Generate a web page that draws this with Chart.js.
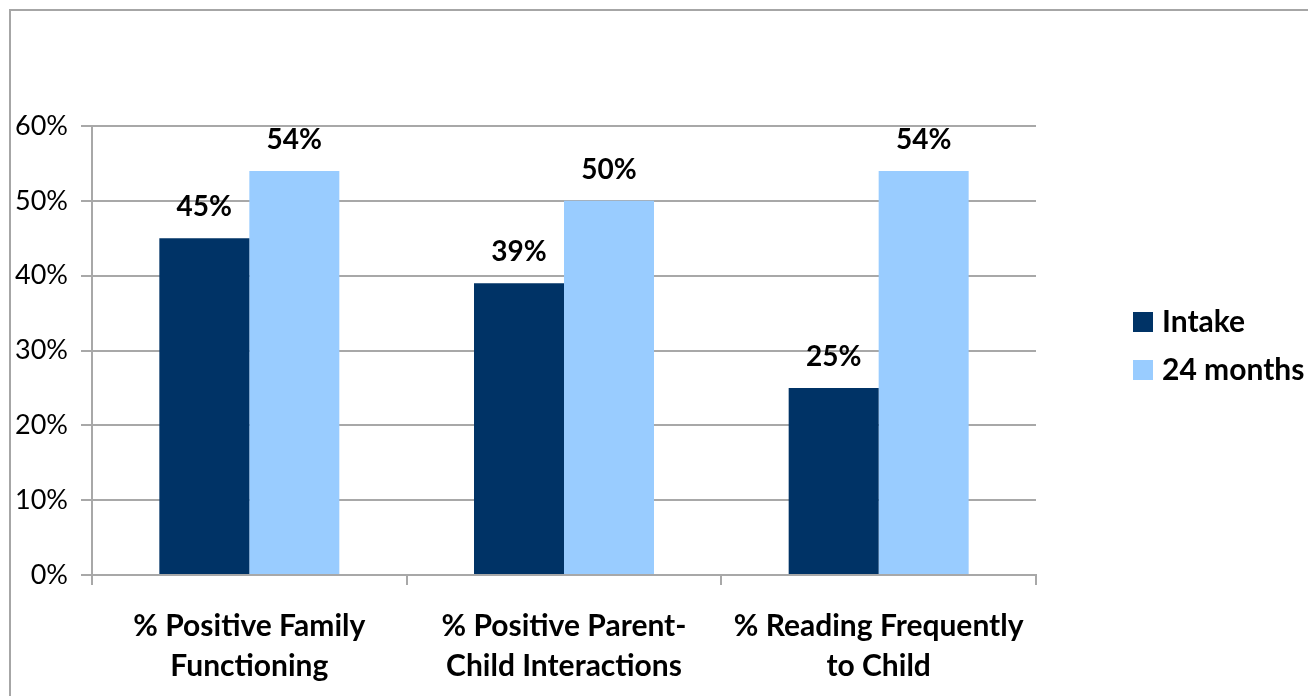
<!DOCTYPE html>
<html>
<head>
<meta charset="utf-8">
<script src="https://cdn.jsdelivr.net/npm/chart.js@4.4.1/dist/chart.umd.min.js"></script>
<style>
  html, body { margin: 0; padding: 0; background: #fff; overflow: hidden; }
  .frame { position: absolute; left: 9px; top: 9px; width: 1400px; height: 800px; border: 2px solid #a6a6a6; }
  .wrap { position: relative; width: 1308px; height: 696px; }
</style>
</head>
<body>
<div class="frame"></div>
<div class="wrap"><canvas id="chart"></canvas></div>
<script>
// Survey outcomes at intake vs. 24 months
const categories = [
    ['% Positive Family', 'Functioning'],
    ['% Positive Parent-', 'Child Interactions'],
    ['% Reading Frequently', 'to Child']
];
const intakeValues = [45, 39, 25];
const monthValues = [54, 50, 54];
const seriesNames = ['Intake', '24 months'];
const seriesColors = ['#003366', '#99ccff'];
const yMin = 0;
const yMax = 60;
const yStep = 10;

const gridColor = '#a8a8a8';
const fontFamily = 'Lato, "Open Sans", sans-serif';

// value labels above each bar
const barLabels = {
    id: 'barLabels',
    afterDatasetsDraw(chart) {
        const ctx = chart.ctx;
        ctx.save();
        ctx.font = 'bold 28px ' + fontFamily;
        ctx.fillStyle = '#000';
        ctx.textAlign = 'center';
        ctx.textBaseline = 'middle';
        chart.data.datasets.forEach((ds, i) => {
            chart.getDatasetMeta(i).data.forEach((bar, j) => {
                ctx.fillText(ds.data[j] + '%', bar.x, bar.y - 31);
            });
        });
        ctx.restore();
    }
};

// legend on the right, squares + bold names
const sideLegend = {
    id: 'sideLegend',
    afterDraw(chart) {
        const ctx = chart.ctx;
        ctx.save();
        ctx.font = 'bold 30px ' + fontFamily;
        ctx.textBaseline = 'middle';
        ctx.textAlign = 'left';
        chart.data.datasets.forEach((ds, i) => {
            const cy = 322 + i * 48;
            ctx.fillStyle = ds.backgroundColor;
            ctx.fillRect(1133, cy - 10, 20, 20);
            ctx.fillStyle = '#000';
            ctx.fillText(ds.label, 1162, cy);
        });
        ctx.restore();
    }
};

new Chart(document.getElementById('chart'), {
    type: 'bar',
    data: {
        labels: categories,
        datasets: [
            { label: seriesNames[0], data: intakeValues, backgroundColor: seriesColors[0] },
            { label: seriesNames[1], data: monthValues, backgroundColor: seriesColors[1] }
        ]
    },
    options: {
        responsive: true,
        maintainAspectRatio: false,
        animation: false,
        layout: { padding: { top: 126, right: 272, left: 0, bottom: 0 } },
        datasets: {
            bar: { categoryPercentage: 0.572, barPercentage: 1.0 }
        },
        plugins: {
            legend: { display: false },
            tooltip: { enabled: false }
        },
        scales: {
            x: {
                grid: { drawOnChartArea: false, color: gridColor, lineWidth: 2, tickLength: 10 },
                border: { color: gridColor, width: 2 },
                ticks: {
                    color: '#000',
                    padding: 21,
                    maxRotation: 0,
                    font: { family: fontFamily, size: 30, weight: 'bold', lineHeight: 1.33 }
                },
                afterFit(scale) { scale.height = 121; }
            },
            y: {
                min: yMin,
                max: yMax,
                grid: { color: gridColor, lineWidth: 2, tickLength: 11 },
                border: { color: gridColor, width: 2 },
                ticks: {
                    stepSize: yStep,
                    color: '#000',
                    padding: 13,
                    font: { family: fontFamily, size: 27 },
                    callback: v => v + '%'
                },
                afterFit(scale) { scale.width = 92; }
            }
        }
    },
    plugins: [barLabels, sideLegend]
});
</script>
</body>
</html>
